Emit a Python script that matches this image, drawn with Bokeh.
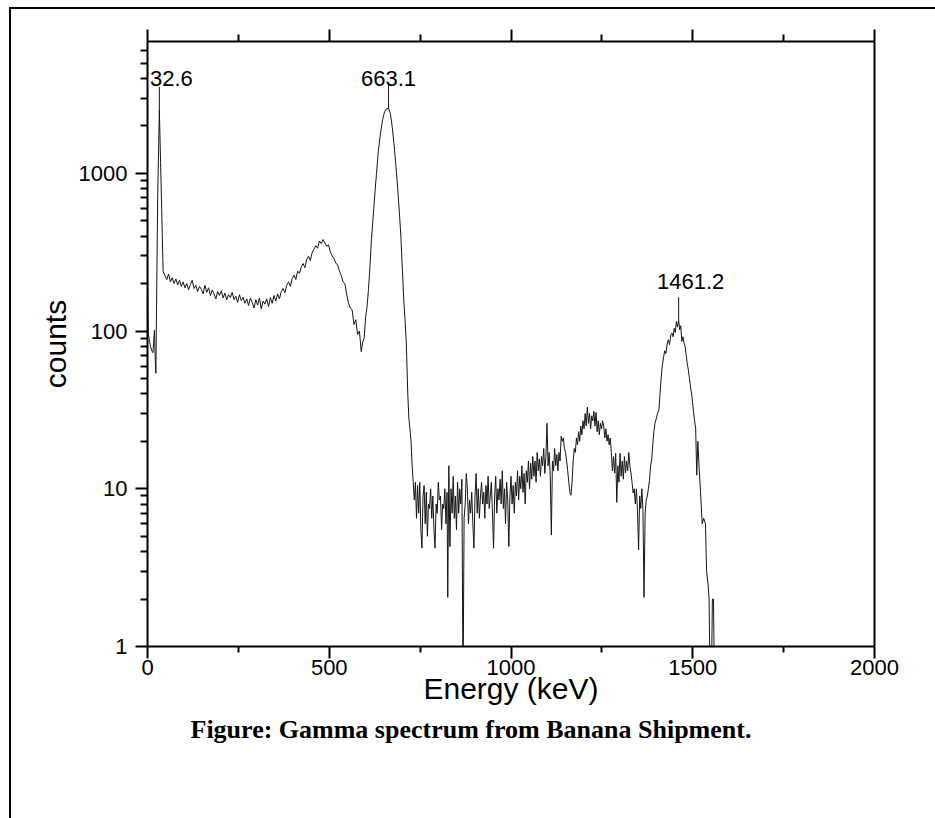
from bokeh.plotting import figure
from bokeh.models import (LinearAxis, FixedTicker, Range1d, Title, ColumnDataSource,
                          NumeralTickFormatter, CustomLabelingPolicy)
from bokeh.core.properties import value
from bokeh.embed import file_html
from bokeh.resources import INLINE

# ---------------- data ----------------
# low-energy part and the 32.6 keV X-ray peak
e_low = [0, 2, 5, 8, 12, 15, 17, 19, 21, 23, 28, 32.6, 36, 39, 43]
c_low = [280, 97, 88, 80, 75, 73, 85, 101, 70, 54, 700, 2520, 1170, 600, 238]

# Compton continuum of the 662 keV line
e_compton = [48, 53, 58, 63, 68, 73, 78, 83, 88, 93,
             98, 103, 108, 113, 118, 123, 128, 133, 138, 143,
             148, 153, 158, 163, 168, 173, 178, 183, 188, 193,
             198, 203, 208, 213, 218, 223, 228, 233, 238, 243,
             248, 253, 258, 263, 268, 273, 278, 283, 288, 293,
             298, 303, 308, 313, 318, 323, 328, 333, 338, 343,
             348, 353, 358, 363, 368, 373, 378, 383, 388, 393,
             398, 403, 408, 413, 418, 423, 428, 433, 438, 443,
             448, 453, 458, 463, 468, 473, 478, 483, 488, 493,
             498, 503, 508, 513, 518, 523, 528, 533, 538, 543,
             548, 553, 558, 563, 568, 573, 578, 583]
c_compton = [225, 212, 230, 205, 218, 200, 214, 196, 210, 192,
             205, 188, 200, 183, 197, 210, 186, 195, 178, 192,
             184, 172, 195, 176, 188, 168, 182, 172, 160, 178,
             168, 180, 162, 174, 158, 170, 163, 176, 158, 166,
             152, 170, 156, 164, 150, 160, 145, 162, 152, 140,
             158, 146, 162, 138, 155, 148, 160, 143, 163, 150,
             168, 155, 172, 160, 178, 186, 175, 195, 205, 192,
             215, 226, 212, 240, 232, 255, 268, 252, 285, 298,
             280, 315, 330, 348, 335, 372, 358, 380, 362, 345,
             352, 318, 300, 288, 270, 262, 240, 225, 205, 200,
             170, 150, 140, 136, 110, 118, 95, 100]

# 663.1 keV (Cs-137) photopeak
e_cs = [588, 592, 596, 600, 604, 608, 612, 616, 620, 625,
        630, 635, 641, 647, 652, 657, 663.1, 668, 673, 678,
        683, 688, 693, 697, 701, 705, 709, 712, 716, 719,
        722, 725, 728, 731]
c_cs = [74, 85, 90, 122, 143, 185, 256, 380, 500, 720,
        1000, 1380, 1800, 2200, 2450, 2560, 2594, 2400, 1990, 1550,
        1150, 820, 560, 400, 250, 157, 112, 84, 40, 28,
        24, 20, 14, 11]

# noisy region between the peaks
e_gap = [734, 737, 740, 743, 746, 749, 752, 755, 758, 761,
         764, 767, 770, 773, 776, 779, 782, 785, 788, 791,
         794, 797, 800, 803, 806, 809, 812, 815, 818, 821,
         824, 826, 829, 832, 835, 838, 841, 844, 847, 850,
         853, 856, 859, 862, 865, 868, 871, 874, 877, 880,
         883, 886, 889, 892, 895, 898, 901, 904, 907, 910,
         913, 916, 919, 922, 925, 928, 931, 934, 937, 940,
         943, 946, 949, 952, 955, 958, 961, 964, 967, 970,
         973, 976, 979, 982, 985, 988, 991, 994, 997, 1000]
c_gap = [8.5, 11, 6.5, 10.5, 7, 11, 5.5, 4.2, 9, 10.5,
         6, 9.5, 5, 8, 7.5, 10, 6.5, 9, 5.5, 4.2,
         8, 7, 11, 8.5, 9, 5.5, 8, 7.5, 10, 6,
         9.5, 2.05, 14, 4.3, 10, 7, 12, 6.5, 9, 5.5,
         11, 7, 10, 8, 11.5, 0.5, 6.5, 8, 12.5, 10,
         6, 8.5, 7, 9.5, 6, 4.2, 9, 12.5, 7, 10,
         6.5, 9, 11, 8, 9.5, 6.5, 10.5, 8, 12, 7.5,
         9, 11, 7, 4.2, 9, 12, 7, 10, 8.5, 11.5,
         8, 13, 7.5, 10, 6, 11, 8.5, 4.3, 9, 12]

# Compton continuum of the 1461 keV line
e_kcompton = [1003, 1006, 1009, 1012, 1015, 1018, 1021, 1024, 1027, 1030,
              1033, 1036, 1039, 1042, 1045, 1048, 1051, 1054, 1057, 1060,
              1063, 1066, 1069, 1072, 1075, 1078, 1081, 1084, 1087, 1090,
              1093, 1096, 1099, 1102, 1105, 1108, 1111, 1114, 1117, 1120,
              1123, 1126, 1129, 1132, 1135, 1138, 1141, 1144, 1147, 1150,
              1153, 1156, 1159, 1162, 1165, 1168, 1171, 1174, 1177, 1180,
              1183, 1186, 1189, 1192, 1195, 1198, 1201, 1204, 1207, 1210,
              1213, 1216, 1219, 1222, 1225, 1228, 1231, 1234, 1237, 1240,
              1243, 1246, 1249, 1252, 1255, 1258, 1261, 1264, 1267, 1270,
              1273, 1276, 1279, 1282, 1285, 1288, 1291, 1294, 1297, 1300,
              1303, 1306, 1309, 1312, 1315, 1318, 1321, 1324, 1327, 1330,
              1333, 1336, 1339, 1342, 1345, 1348, 1351, 1354, 1357, 1360,
              1363, 1366, 1369, 1372, 1375, 1378, 1381, 1384, 1387, 1390,
              1393, 1396]
c_kcompton = [8, 10.5, 7, 11, 9, 13, 8.5, 12, 10, 14,
              9.5, 12.5, 8, 13, 11, 15, 10, 14.5, 11.5, 16,
              12, 15, 11, 17, 13, 15.5, 12, 16, 14, 18,
              12.5, 16, 26, 14, 17, 12, 5.1, 15, 13, 18,
              14, 16.5, 13, 17, 15, 21.5, 20, 21, 18, 17,
              15, 13, 11, 9.5, 9.1, 11, 15, 18, 17, 21,
              19, 23, 20, 25, 22, 27, 24, 30, 25, 33,
              26, 30, 24, 29, 27, 31, 25, 30.5, 23, 27,
              22, 26, 24, 27, 25, 21, 24, 20, 22, 19,
              21, 17, 13, 16, 12.6, 16.8, 8.2, 14, 11, 16.8,
              12, 15, 11.5, 16, 12.6, 15, 13, 17, 14, 12.6,
              11, 9.4, 10, 8, 10, 7.3, 4.1, 9, 7.5, 10,
              7.3, 2.05, 7, 8.5, 9, 10, 11.3, 14, 15.2, 19,
              23, 26]

# 1461.2 keV (K-40) photopeak
e_k40 = [1400, 1403, 1407, 1410, 1413, 1416, 1420, 1423, 1426, 1430,
         1433, 1436, 1440, 1443, 1446, 1449, 1452, 1455, 1458, 1461.2,
         1464, 1467, 1470, 1473, 1476, 1479, 1482, 1485, 1488, 1491,
         1494, 1498, 1502, 1505, 1508, 1511, 1514, 1518, 1522, 1526,
         1530, 1535, 1538, 1542, 1545, 1548, 1551, 1554, 1557, 1560]
c_k40 = [28, 30, 31.6, 40, 50, 60, 69, 75, 72, 84,
         88, 82, 95, 97, 92, 104, 98, 115, 106, 117,
         102, 108, 86, 92, 84, 80, 70, 62, 56.5, 50,
         44, 38, 31, 27, 24.2, 12.2, 20, 13, 9, 6,
         6.5, 6, 3, 2.5, 2, 0.5, 0.5, 2, 2, 0.5]

energy = e_low + e_compton + e_cs + e_gap + e_kcompton + e_k40
counts = c_low + c_compton + c_cs + c_gap + c_kcompton + c_k40

peak_energy = [32.6, 663.1, 1461.2]
peak_counts = [2520, 2594, 117]
peak_labels = ["32.6", "663.1", "1461.2"]

x_ticks = [0, 500, 1000, 1500, 2000]
x_minor = [250, 750, 1250, 1750]
y_ticks = [1, 10, 100, 1000]
y_minor = [2, 3, 4, 5, 6, 7, 8, 9,
           20, 30, 40, 50, 60, 70, 80, 90,
           200, 300, 400, 500, 600, 700, 800, 900,
           2000, 3000, 4000, 5000, 6000]

CAPTION = "Figure: Gamma spectrum from Banana Shipment."

# ---------------- figure ----------------
p = figure(width=935, height=818, y_axis_type="log",
           x_range=Range1d(0, 2000), y_range=Range1d(1, 6850),
           output_backend="svg", toolbar_location=None,
           min_border_left=147, min_border_right=61,
           min_border_top=41, min_border_bottom=172,
           background_fill_color="white", border_fill_color=None)
p.outline_line_color = None
p.grid.visible = False
# outer frame of the figure panel (left and top edges lie inside the window)
p.styles = {
    "background": ("linear-gradient(#000, #000) 9px 7px / 2px 100% no-repeat, "
                   "linear-gradient(#000, #000) 9px 7px / 100% 2px no-repeat, #fff"),
}

SANS = "Liberation Sans"


def style_axis(ax, tick_out=12, minor_out=7):
    ax.axis_line_color = "black"
    ax.axis_line_width = 2
    ax.major_tick_line_color = "black"
    ax.major_tick_line_width = 2
    ax.minor_tick_line_color = "black"
    ax.minor_tick_line_width = 2
    ax.major_tick_in = 0
    ax.minor_tick_in = 0
    ax.major_tick_out = tick_out
    ax.minor_tick_out = minor_out
    ax.major_label_text_font = SANS
    ax.major_label_text_font_size = "22px"
    ax.major_label_text_color = "black"


no_labels = CustomLabelingPolicy(code="""
    for (const i of indices) { indices.unset(i) }
    return indices
""")

xaxis = p.xaxis[0]
xaxis.ticker = FixedTicker(ticks=x_ticks, minor_ticks=x_minor)
style_axis(xaxis, 12, 6)
xaxis.major_label_standoff = 1
xaxis.axis_label = "Energy (keV)"
xaxis.axis_label_text_font = SANS
xaxis.axis_label_text_font_style = "normal"
xaxis.axis_label_text_font_size = "30px"
xaxis.axis_label_text_color = "black"
xaxis.axis_label_standoff = -6

yaxis = p.yaxis[0]
yaxis.ticker = FixedTicker(ticks=y_ticks, minor_ticks=y_minor)
yaxis.formatter = NumeralTickFormatter(format="0")
style_axis(yaxis, 12, 7)
yaxis.major_label_standoff = 8
yaxis.axis_label = "counts"
yaxis.axis_label_text_font = SANS
yaxis.axis_label_text_font_style = "normal"
yaxis.axis_label_text_font_size = "30px"
yaxis.axis_label_text_color = "black"
yaxis.axis_label_standoff = 4

top = LinearAxis(ticker=FixedTicker(ticks=x_ticks, minor_ticks=x_minor),
                 major_label_policy=no_labels, major_label_standoff=0)
style_axis(top, 12, 7)
p.add_layout(top, "above")

right = LinearAxis(ticker=FixedTicker(ticks=[]), major_label_policy=no_labels,
                   major_label_standoff=0)
style_axis(right, 0, 0)
p.add_layout(right, "right")

src = ColumnDataSource(data=dict(energy=energy, counts=counts))
p.line("energy", "counts", source=src, line_color="#151515", line_width=1)

# peak markers and labels
top_counts = [c * 1.4 for c in peak_counts]
p.segment(x0=peak_energy, y0=peak_counts, x1=peak_energy, y1=top_counts,
          line_color="#151515", line_width=1)
p.text(x=peak_energy, y=top_counts, text=peak_labels,
       x_offset=[12, 0, 12], y_offset=[-8, -6, -16],
       text_align="center", text_baseline="alphabetic",
       text_font=value(SANS), text_font_size=value("22px"), text_color="black")

# caption below the chart
p.add_layout(Title(text=CAPTION, align="left", offset=43, standoff=10,
                   text_font="Liberation Serif", text_font_style="bold",
                   text_font_size="26px", text_color="black"), "below")

open("out.html", "w").write(file_html(p, INLINE))
